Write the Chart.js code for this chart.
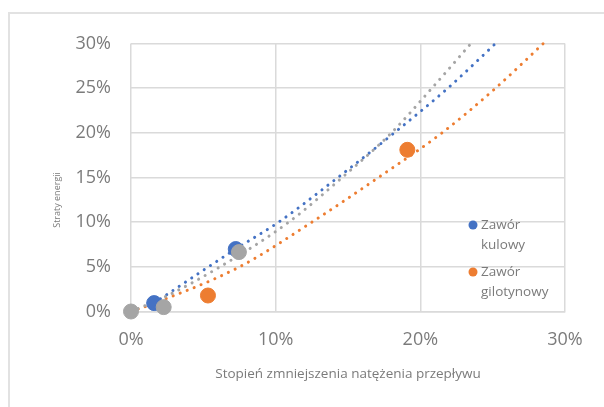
<!DOCTYPE html>
<html>
<head>
<meta charset="utf-8">
<script src="https://cdn.jsdelivr.net/npm/chart.js@4/dist/chart.umd.min.js"></script>
<style>
    html, body { margin: 0; padding: 0; background: #fff; }
    #wrap { position: relative; width: 604px; height: 407px; }
</style>
</head>
<body>
<div id="wrap"><canvas id="chart"></canvas></div>
<script>
// measured points (x = flow reduction %, y = energy loss %)
const kulowyX = [1.6, 7.24];
const kulowyY = [0.94, 6.99];
const gilotynowyX = [5.32, 19.1];
const gilotynowyY = [1.79, 18.1];
const szaryX = [0, 2.26, 7.46];
const szaryY = [0, 0.49, 6.65];

// dotted trend lines
const kulowyTrendX = [1.6, 7.24, 10.2, 14.3, 18.2, 21.9, 25.2];
const kulowyTrendY = [0.95, 7.0, 10, 15, 20, 25, 30];
const gilotynowyTrendX = [0, 1.0, 7.5, 12.5, 17.1, 21.5, 25.2, 28.5];
const gilotynowyTrendY = [0, 0.56, 5, 10, 15, 20, 25, 30];
const szaryTrendX = [0, 2.3, 6.15, 10.9, 14.6, 18.0, 20.8, 23.5];
const szaryTrendY = [0, 1.6, 5, 10, 15, 20, 25, 30];

const xTicks = [0, 10, 20, 30];
const yTicks = [0, 5, 10, 15, 20, 25, 30];

const seriesNames = ['Zawór kulowy', 'Zawór gilotynowy'];
const xTitle = 'Stopień zmniejszenia natężenia przepływu';
const yTitle = 'Straty energii';

const BLUE = '#4472C4',
    ORANGE = '#ED7D31',
    GREY = '#A5A5A5',
    TEXT = '#7b7b7b',
    GRID = '#dadada';

const toPoints = (xs, ys) => xs.map((x, i) => ({x, y: ys[i]}));

function trend(xs, ys, color, order) {
    return {
        type: 'line',
        data: toPoints(xs, ys),
        borderColor: color,
        borderWidth: 3,
        borderDash: [0.1, 7.4],
        borderCapStyle: 'round',
        pointRadius: 0,
        cubicInterpolationMode: 'monotone',
        fill: false,
        order
    };
}

function points(xs, ys, color, order) {
    return {
        type: 'scatter',
        data: toPoints(xs, ys),
        backgroundColor: color,
        borderColor: color,
        pointRadius: 7.5,
        pointHoverRadius: 7.5,
        order
    };
}

// frame, axis titles and legend drawn straight onto the canvas
const decorPlugin = {
    id: 'decor',
    beforeDraw(chart) {
        const ctx = chart.ctx;
        ctx.save();
        ctx.strokeStyle = '#e2e2e2';
        ctx.lineWidth = 2;
        ctx.beginPath();
        ctx.moveTo(9, 420);
        ctx.lineTo(9, 13);
        ctx.lineTo(610, 13);
        ctx.stroke();
        ctx.restore();
    },
    afterDraw(chart) {
        const ctx = chart.ctx,
            area = chart.chartArea;

        ctx.save();
        ctx.fillStyle = TEXT;
        ctx.textAlign = 'center';
        ctx.textBaseline = 'middle';

        ctx.font = '13.5px "Open Sans"';
        ctx.fillText(xTitle, (area.left + area.right) / 2, 374);

        ctx.save();
        ctx.translate(57, 200);
        ctx.rotate(-Math.PI / 2);
        ctx.font = '9px "Open Sans"';
        ctx.fillText(yTitle, 0, 0);
        ctx.restore();

        // legend
        const legendX = area.right - 92;
        const rows = [
            {color: BLUE, y: 225, lines: seriesNames[0].split(' ')},
            {color: ORANGE, y: 272, lines: seriesNames[1].split(' ')}
        ];
        ctx.font = '13.5px "Open Sans"';
        ctx.textAlign = 'left';
        for (const row of rows) {
            ctx.fillStyle = row.color;
            ctx.beginPath();
            ctx.arc(legendX, row.y, 4.5, 0, Math.PI * 2);
            ctx.fill();
            ctx.fillStyle = TEXT;
            row.lines.forEach((line, i) => {
                ctx.fillText(line, legendX + 8, row.y + i * 20);
            });
        }
        ctx.restore();
    }
};

new Chart(document.getElementById('chart'), {
    data: {
        datasets: [
            trend(kulowyTrendX, kulowyTrendY, BLUE, 5),
            trend(szaryTrendX, szaryTrendY, GREY, 4),
            trend(gilotynowyTrendX, gilotynowyTrendY, ORANGE, 6),
            points(kulowyX, kulowyY, BLUE, 3),
            points(gilotynowyX, gilotynowyY, ORANGE, 2),
            points(szaryX, szaryY, GREY, 1)
        ]
    },
    options: {
        responsive: true,
        maintainAspectRatio: false,
        animation: false,
        clip: false,
        layout: {
            padding: {top: 43.5, right: 39, left: 0, bottom: 0}
        },
        plugins: {
            legend: {display: false},
            tooltip: {enabled: false}
        },
        scales: {
            x: {
                type: 'linear',
                min: 0,
                max: 30,
                afterBuildTicks: scale => {
                    scale.ticks = xTicks.map(value => ({value}));
                },
                afterFit: scale => {
                    scale.height = 407 - 311.5;
                },
                grid: {color: GRID, lineWidth: 1.5, drawTicks: false},
                border: {color: GRID, width: 1.5},
                ticks: {
                    padding: 18,
                    color: TEXT,
                    font: {family: 'Open Sans', size: 18},
                    callback: v => v + '%'
                }
            },
            y: {
                type: 'linear',
                min: 0,
                max: 30,
                afterBuildTicks: scale => {
                    scale.ticks = yTicks.map(value => ({value}));
                },
                afterFit: scale => {
                    scale.width = 131;
                },
                grid: {color: GRID, lineWidth: 1.5, drawTicks: false},
                border: {display: false},
                ticks: {
                    padding: 20,
                    color: TEXT,
                    font: {family: 'Open Sans', size: 18},
                    callback: v => v + '%'
                }
            }
        }
    },
    plugins: [decorPlugin]
});
</script>
</body>
</html>
